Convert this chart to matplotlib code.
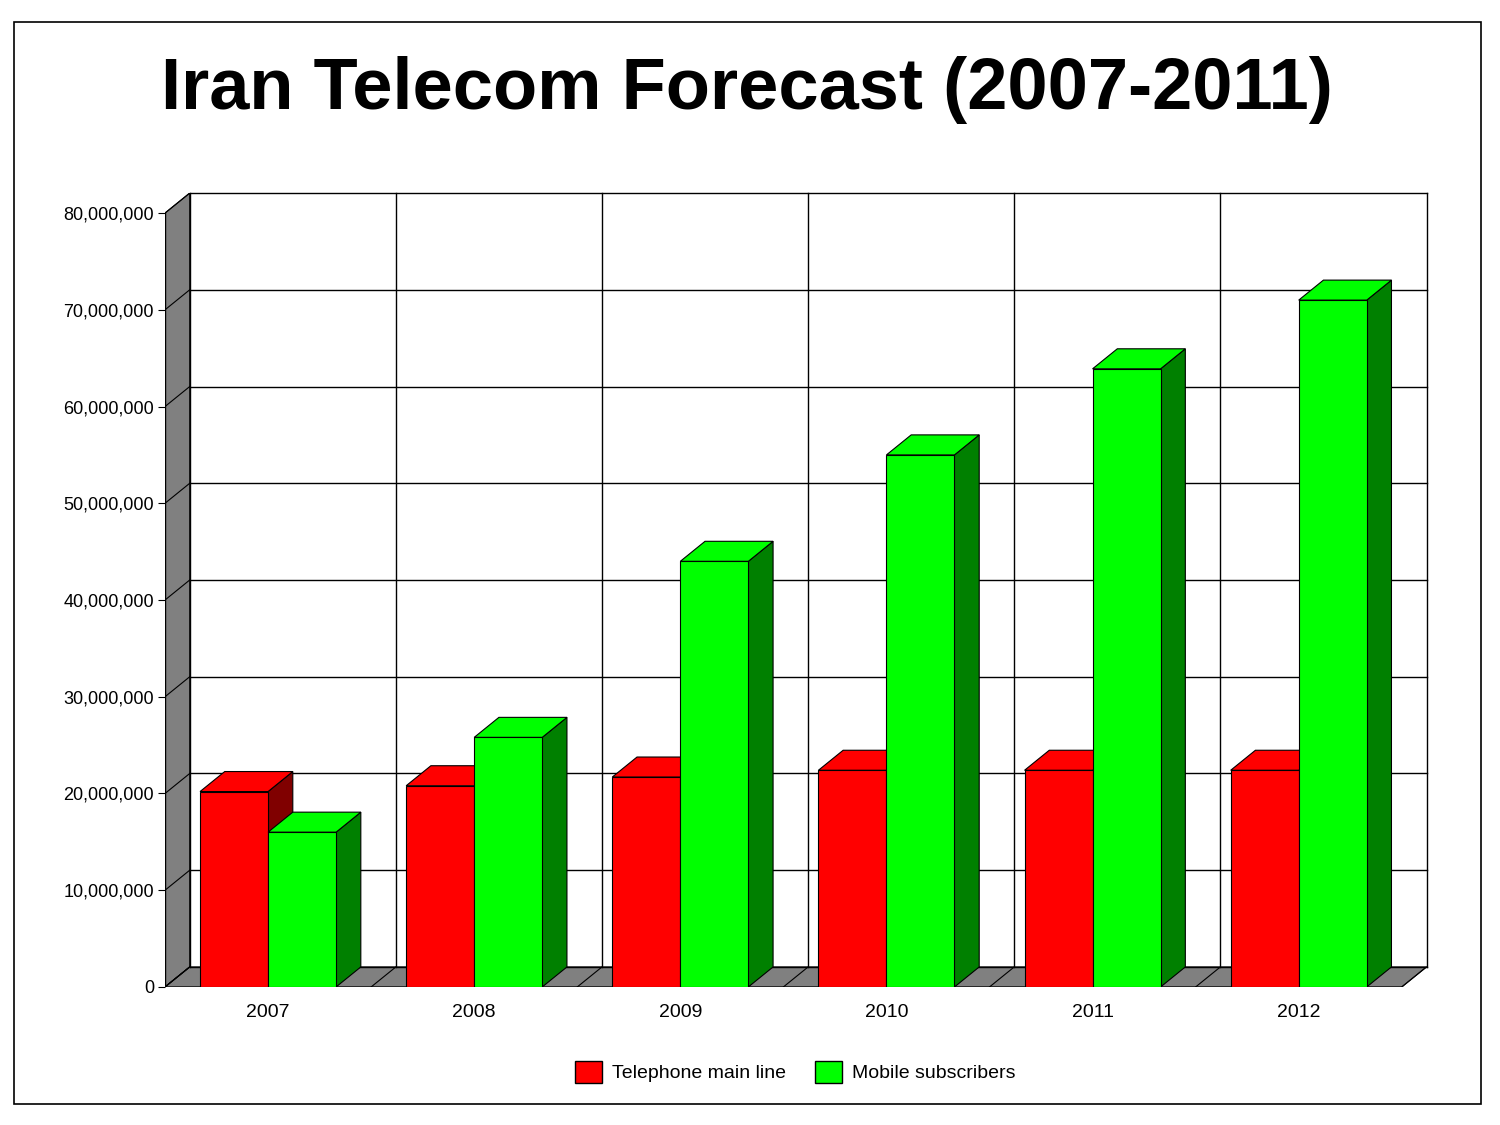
import matplotlib.pyplot as plt
import numpy as np
from matplotlib.patches import Polygon, Rectangle

plt.rcParams['font.family'] = ['Liberation Sans Narrow', 'Liberation Sans', 'DejaVu Sans']


def draw_bar(ax, x, width, height, depth_x, depth_y, front, side) -> None:
    """
    Draw one bar with a fake 3D look (front, top and side faces).

    :param ax: The axes to draw on.
    :param x: Left edge of the front face, in category units.
    :param width: Width of the front face.
    :param height: The value of the bar.
    :param depth_x: Horizontal depth offset, in category units.
    :param depth_y: Vertical depth offset, in value units.
    :param front: Colour of the front and top faces.
    :param side: Colour of the side face.
    """
    kw = dict(edgecolor='black', linewidth=0.8, zorder=5)
    ax.add_patch(Polygon([(x + width, 0), (x + width + depth_x, depth_y),
                          (x + width + depth_x, height + depth_y), (x + width, height)], facecolor=side, **kw))
    ax.add_patch(Polygon([(x, height), (x + depth_x, height + depth_y),
                          (x + width + depth_x, height + depth_y), (x + width, height)], facecolor=front, **kw))
    ax.add_patch(Rectangle((x, 0), width, height, facecolor=front, **kw))


def plot_forecast(years, main_lines, mobiles) -> None:
    """
    Plot the grouped pseudo-3D bar chart.

    :param years: The category labels.
    :param main_lines: Telephone main line values.
    :param mobiles: Mobile subscriber values.
    """
    fig = plt.figure(figsize=(15, 11.25), dpi=100)
    fig.patches.append(Rectangle((14 / 1500, 1 - 1104 / 1125), 1467 / 1500, 1082 / 1125,
                                 transform=fig.transFigure, fill=False, edgecolor='black', linewidth=1.2))
    fig.text(0.498, 0.92, 'Iran Telecom Forecast (2007-2011)', ha='center', va='center',
             fontsize=52, fontweight='bold')

    ax = fig.add_axes([0.11, 0.1227, 0.841, 0.7057])
    dx, dy = 0.12, 2.07e6  # depth of the 3D effect
    y_max = 80e6
    n = len(years)
    ax.set_xlim(-0.5, n - 0.5 + dx)
    ax.set_ylim(0, y_max + dy)
    for s in ax.spines.values():
        s.set_visible(False)

    # Side wall and floor
    ax.add_patch(Polygon([(-0.5, 0), (-0.5 + dx, dy), (-0.5 + dx, y_max + dy), (-0.5, y_max)],
                         facecolor='#808080', edgecolor='black', linewidth=0.8, zorder=1))
    ax.add_patch(Polygon([(-0.5, 0), (-0.5 + dx, dy), (n - 0.5 + dx, dy), (n - 0.5, 0)],
                         facecolor='#808080', edgecolor='black', linewidth=0.8, zorder=1))
    # Back wall grid
    for v in np.arange(0, y_max + 1, 10e6):
        ax.plot([-0.5 + dx, n - 0.5 + dx], [v + dy, v + dy], color='black', linewidth=1, zorder=2, clip_on=False)
        ax.plot([-0.5 + dx, -0.5], [v + dy, v], color='black', linewidth=0.8, zorder=2)
    for i in range(n + 1):
        ax.plot([i - 0.5 + dx, i - 0.5 + dx], [dy, y_max + dy], color='black', linewidth=1, zorder=2, clip_on=False)
        ax.plot([i - 0.5, i - 0.5 + dx], [0, dy], color='black', linewidth=0.8, zorder=2)
    ax.plot([-0.5, -0.5], [0, y_max], color='black', linewidth=1, zorder=3)
    ax.plot([-0.5, n - 0.5], [0, 0], color='black', linewidth=1, zorder=3)

    w = 0.33
    for i in range(n):
        draw_bar(ax, i - w, w, main_lines[i], dx, dy, '#ff0000', '#800000')
        draw_bar(ax, i, w, mobiles[i], dx, dy, '#00ff00', '#008000')

    ax.set_yticks(np.arange(0, y_max + 1, 10e6))
    ax.set_yticklabels([f'{int(v):,}' for v in np.arange(0, y_max + 1, 10e6)], fontsize=13)
    ax.set_xticks(range(n))
    ax.set_xticklabels(years, fontsize=14)
    ax.tick_params(axis='x', length=0, pad=12)
    ax.tick_params(axis='y', length=5, pad=3)

    handles = [Rectangle((0, 0), 1, 1, facecolor='#ff0000', edgecolor='black'),
               Rectangle((0, 0), 1, 1, facecolor='#00ff00', edgecolor='black')]
    fig.legend(handles, ['Telephone main line', 'Mobile subscribers'], loc='center',
               bbox_to_anchor=(0.53, 1 - 1072 / 1125), ncol=2, frameon=False, fontsize=14,
               handlelength=1.4, handleheight=1.4, columnspacing=1.5, handletextpad=0.5)

    fig.savefig('out.png')


if __name__ == '__main__':
    years = ['2007', '2008', '2009', '2010', '2011', '2012']
    main_lines = [20.2e6, 20.8e6, 21.7e6, 22.4e6, 22.4e6, 22.4e6]
    mobiles = [16.0e6, 25.8e6, 44.0e6, 55.0e6, 63.9e6, 71.0e6]
    plot_forecast(years, main_lines, mobiles)
